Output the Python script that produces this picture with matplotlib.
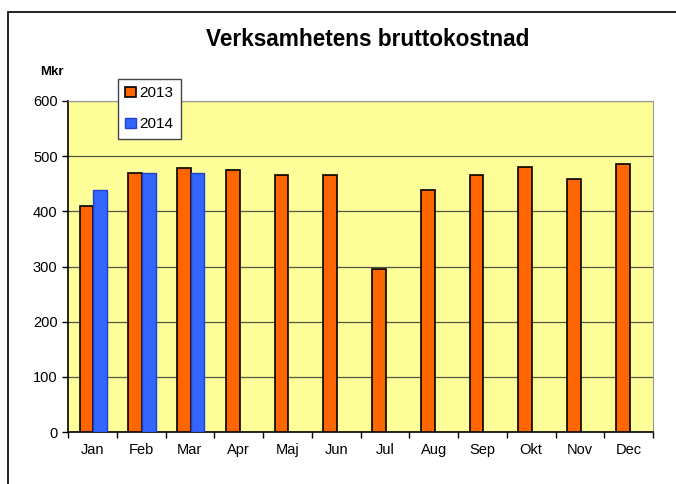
import matplotlib.pyplot as plt
import matplotlib.patches as mpatches
import numpy as np

plt.rcParams['font.family'] = ['Liberation Sans', 'DejaVu Sans']

months = ['Jan', 'Feb', 'Mar', 'Apr', 'Maj', 'Jun', 'Jul', 'Aug', 'Sep', 'Okt', 'Nov', 'Dec']
cost_2013 = [410, 470, 478, 475, 466, 466, 296, 438, 466, 480, 459, 485]
cost_2014 = [438, 470, 469]

W, H = 676, 484
fig = plt.figure(figsize=(W / 100, H / 100), dpi=100)

# outer chart frame (right and bottom edges fall outside the picture)
fig.patches.append(mpatches.Rectangle((8 / W, -0.1), 1.2, (H - 12) / H + 0.1,
                                      transform=fig.transFigure, fill=False,
                                      edgecolor='black', linewidth=1.2))

ax = fig.add_axes([68 / W, (H - 432) / H, (653 - 68) / W, (432 - 101) / H])
ax.set_facecolor('#FFFF99')

x = np.arange(len(months))
bw = 0.28
ax.bar(x - bw / 2 + 0.02, cost_2013, width=bw, color='#FF6600', edgecolor='black',
       linewidth=1.2, label='2013', zorder=3)
ax.bar(x[:len(cost_2014)] + bw / 2 + 0.02, cost_2014, width=bw, color='#3366FF',
       edgecolor='#1f3fd0', linewidth=1.0, label='2014', zorder=3)

ax.set_xlim(-0.5, len(months) - 0.5)
ax.set_ylim(0, 600)
ax.set_yticks(range(0, 601, 100))
ax.set_xticks(x)
ax.set_xticklabels(months, fontsize=10.5)
ax.set_xticks(np.arange(-0.5, len(months)), minor=True)
ax.tick_params(axis='x', which='major', length=0, pad=8)
ax.tick_params(axis='x', which='minor', length=4, width=1, color='black')
ax.tick_params(axis='y', length=4, width=1, labelsize=10.5, color='black')
ax.grid(axis='y', color='#555544', linewidth=0.9, zorder=1)

for side in ['top', 'right']:
    ax.spines[side].set_color('#999999')
for side in ['left', 'bottom']:
    ax.spines[side].set_color('black')
    ax.spines[side].set_linewidth(1.2)

fig.text(368 / W, 1 - 40 / H, 'Verksamhetens bruttokostnad', ha='center',
         va='center', fontsize=16.3, fontweight='bold')
fig.text(52 / W, 1 - 72 / H, 'Mkr', ha='center', va='center', fontsize=9.5,
         fontweight='bold')

leg = ax.legend(loc='upper left', bbox_to_anchor=((110 - 68) / (653 - 68), 1.09),
                frameon=True, fancybox=False, fontsize=11, handlelength=0.7,
                handleheight=0.7, handletextpad=0.2, labelspacing=1.1,
                borderpad=0.5)
leg.get_frame().set_edgecolor('#444444')
leg.get_frame().set_linewidth(1.0)
leg.get_frame().set_facecolor('white')
leg.get_frame().set_alpha(1)
leg.set_zorder(5)

fig.savefig('out.png', dpi=100)
